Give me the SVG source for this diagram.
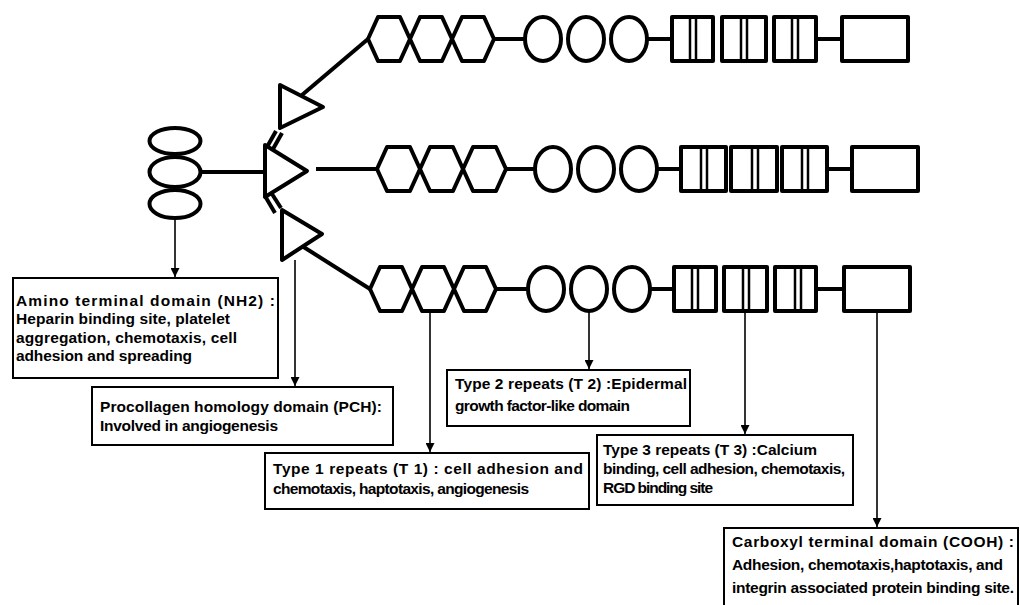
<svg xmlns="http://www.w3.org/2000/svg" width="1020" height="605" viewBox="0 0 1020 605">
<style>
.sh{fill:#fff;stroke:#000;stroke-width:4;stroke-linejoin:round}
.ln{fill:none;stroke:#000;stroke-width:4;stroke-linecap:butt}
.in{fill:none;stroke:#000;stroke-width:2.5}
.ar{fill:none;stroke:#000;stroke-width:1.6}
.box{fill:#fff;stroke:#000;stroke-width:2}
text{font-family:"Liberation Sans",Arial,sans-serif;font-weight:bold;font-size:15.5px;fill:#000}
</style>
<defs>
<marker id="arr" markerUnits="userSpaceOnUse" viewBox="0 0 10 10" markerWidth="11" markerHeight="9" refX="10" refY="5" orient="auto"><path d="M0,0 L10,5 L0,10 z" fill="#000"/></marker>
</defs>

<g id="connectors">
<line class="ln" x1="201" y1="172" x2="265" y2="172"/>
<line class="ln" x1="316" y1="169" x2="377" y2="169"/>
<line class="ln" x1="302" y1="95" x2="368" y2="39"/>
<line class="ln" x1="302" y1="246" x2="370" y2="289"/>
<line class="ln" x1="267" y1="147" x2="276" y2="131"/>
<line class="ln" x1="273" y1="149" x2="282" y2="133"/>
<line class="ln" x1="265" y1="196" x2="275" y2="213"/>
<line class="ln" x1="272" y1="194" x2="281" y2="208"/>
<line class="ln" x1="494" y1="39" x2="525" y2="39"/>
<line class="ln" x1="647" y1="39" x2="672" y2="39"/>
<line class="ln" x1="816" y1="39" x2="842" y2="39"/>
<line class="ln" x1="506" y1="169" x2="535" y2="169"/>
<line class="ln" x1="657" y1="169" x2="681" y2="169"/>
<line class="ln" x1="827" y1="169" x2="852" y2="169"/>
<line class="ln" x1="496" y1="289" x2="528" y2="289"/>
<line class="ln" x1="650" y1="289" x2="674" y2="289"/>
<line class="ln" x1="816" y1="289" x2="844" y2="289"/>
<line class="ar" x1="175" y1="219" x2="175" y2="277" marker-end="url(#arr)"/>
<line class="ar" x1="295" y1="260" x2="295" y2="386" marker-end="url(#arr)"/>
<line class="ar" x1="430" y1="311" x2="430" y2="452" marker-end="url(#arr)"/>
<line class="ar" x1="589" y1="311" x2="589" y2="369" marker-end="url(#arr)"/>
<line class="ar" x1="745" y1="311" x2="745" y2="434" marker-end="url(#arr)"/>
<line class="ar" x1="877" y1="311" x2="877" y2="527" marker-end="url(#arr)"/>
</g>

<g id="nh2-ellipses">
<ellipse class="sh" cx="175" cy="141" rx="25.5" ry="13"/>
<ellipse class="sh" cx="175" cy="204" rx="25.5" ry="14"/>
<ellipse class="sh" cx="175" cy="172" rx="25.5" ry="15"/>
</g>

<g id="pch-triangles">
<polygon class="sh" points="280,85 323,107 280,128"/>
<polygon class="sh" points="265,145 307,171 265,197"/>
<polygon class="sh" points="282,210 322,234 282,260"/>
</g>

<g id="t1-hexagons">
<polygon class="sh" points="368,39 378,17 400,17 410,39 400,61 378,61"/>
<polygon class="sh" points="410,39 420,17 442,17 452,39 442,61 420,61"/>
<polygon class="sh" points="452,39 462,17 484,17 494,39 484,61 462,61"/>
<polygon class="sh" points="377,169 387,147 410,147 420,169 410,191 387,191"/>
<polygon class="sh" points="420,169 430,147 453,147 463,169 453,191 430,191"/>
<polygon class="sh" points="463,169 473,147 496,147 506,169 496,191 473,191"/>
<polygon class="sh" points="370,289 380,267 402,267 412,289 402,311 380,311"/>
<polygon class="sh" points="412,289 422,267 444,267 454,289 444,311 422,311"/>
<polygon class="sh" points="454,289 464,267 486,267 496,289 486,311 464,311"/>
</g>

<g id="t2-circles">
<ellipse class="sh" cx="543" cy="39" rx="18" ry="22"/>
<ellipse class="sh" cx="586" cy="39" rx="18" ry="22"/>
<ellipse class="sh" cx="629" cy="39" rx="18" ry="22"/>
<ellipse class="sh" cx="553" cy="169" rx="18" ry="22"/>
<ellipse class="sh" cx="596" cy="169" rx="18" ry="22"/>
<ellipse class="sh" cx="639" cy="169" rx="18" ry="22"/>
<ellipse class="sh" cx="546" cy="289" rx="18" ry="22"/>
<ellipse class="sh" cx="589" cy="289" rx="18" ry="22"/>
<ellipse class="sh" cx="632" cy="289" rx="18" ry="22"/>
</g>

<g id="t3-repeats">
<rect class="sh" x="672" y="17" width="41" height="44"/>
<rect class="sh" x="722" y="17" width="44" height="44"/>
<rect class="sh" x="774" y="17" width="42" height="44"/>
<path class="in" d="M690,17V61M696,17V61M741,17V61M747,17V61M792,17V61M798,17V61"/>
<rect class="sh" x="681" y="147" width="45" height="44"/>
<rect class="sh" x="731" y="147" width="46" height="44"/>
<rect class="sh" x="782" y="147" width="45" height="44"/>
<path class="in" d="M701,147V191M707,147V191M752,147V191M758,147V191M802,147V191M808,147V191"/>
<rect class="sh" x="674" y="267" width="42" height="44"/>
<rect class="sh" x="724" y="267" width="43" height="44"/>
<rect class="sh" x="775" y="267" width="41" height="44"/>
<path class="in" d="M692,267V311M698,267V311M743,267V311M749,267V311M795,267V311M801,267V311"/>
</g>

<g id="cooh-rects">
<rect class="sh" x="842" y="17" width="66" height="44"/>
<rect class="sh" x="852" y="147" width="66" height="44"/>
<rect class="sh" x="844" y="267" width="66" height="44"/>
</g>

<g id="box-nh2">
<rect class="box" x="13" y="278" width="265" height="100"/>
<text x="16" y="306" textLength="259">Amino terminal domain (NH2) :</text>
<text x="16" y="324" textLength="214">Heparin binding site, platelet</text>
<text x="16" y="343" textLength="221">aggregation, chemotaxis, cell</text>
<text x="16" y="361" textLength="176">adhesion and spreading</text>
</g>

<g id="box-pch">
<rect class="box" x="92" y="387" width="301" height="58"/>
<text x="100" y="412" textLength="282">Procollagen homology domain (PCH):</text>
<text x="100" y="431" textLength="178">Involved in angiogenesis</text>
</g>

<g id="box-t1">
<rect class="box" x="265" y="453" width="324" height="56"/>
<text x="273" y="474" textLength="310">Type 1 repeats (T 1) : cell adhesion and</text>
<text x="273" y="494" textLength="256">chemotaxis, haptotaxis, angiogenesis</text>
</g>

<g id="box-t2">
<rect class="box" x="447" y="370" width="243" height="56"/>
<text x="455" y="389" textLength="232">Type 2 repeats (T 2) :Epidermal</text>
<text x="455" y="411" textLength="175">growth factor-like domain</text>
</g>

<g id="box-t3">
<rect class="box" x="597" y="435" width="256" height="70"/>
<text x="603" y="455" textLength="214">Type 3 repeats (T 3) :Calcium</text>
<text x="603" y="474" textLength="242">binding, cell adhesion, chemotaxis,</text>
<text x="603" y="493" textLength="110">RGD binding site</text>
</g>

<g id="box-cooh">
<rect class="box" x="724" y="528" width="294" height="84"/>
<text x="732" y="547" textLength="282">Carboxyl terminal domain (COOH) :</text>
<text x="732" y="570" textLength="271">Adhesion, chemotaxis,haptotaxis, and</text>
<text x="732" y="593" textLength="282">integrin associated protein binding site.</text>
</g>
</svg>
